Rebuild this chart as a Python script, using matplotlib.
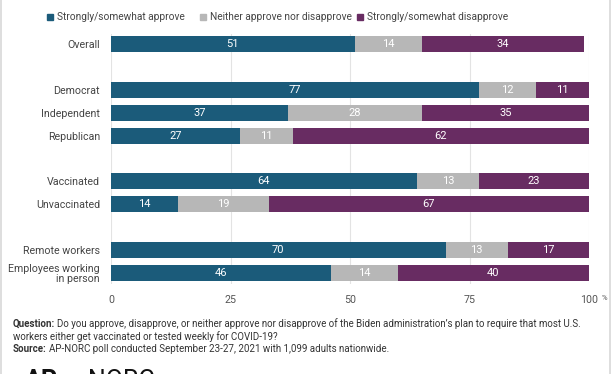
import matplotlib
matplotlib.use('Agg')
import matplotlib.pyplot as plt
from matplotlib.patches import Rectangle
import numpy as np

plt.rcParams['font.family'] = ['Roboto', 'DejaVu Sans']

groups = ['Overall', 'Democrat', 'Independent', 'Republican',
          'Vaccinated', 'Unvaccinated', 'Remote workers', 'Employees working\nin person']
rows = [0, 2, 3, 4, 6, 7, 9, 10]
approve = [51, 77, 37, 27, 64, 14, 70, 46]
neither = [14, 12, 28, 11, 13, 19, 13, 14]
disapprove = [34, 11, 35, 62, 23, 67, 17, 40]
series_names = ['Strongly/somewhat approve', 'Neither approve nor disapprove',
                'Strongly/somewhat disapprove']
colors = ['#1b5b7a', '#b7b7b7', '#682c62']
xticks = [0, 25, 50, 75, 100]

W, H = 612, 374
fig = plt.figure(figsize=(W / 100, H / 100), dpi=100)
ax = fig.add_axes([111 / W, 1 - 284 / H, (589 - 111) / W, (284 - 34) / H])

left = np.zeros(len(rows))
for vals, col in zip([approve, neither, disapprove], colors):
    vals = np.array(vals, dtype=float)
    ax.barh(rows, vals, left=left, height=0.7, color=col, zorder=2)
    for r, l, v in zip(rows, left, vals):
        ax.text(l + v / 2, r, '%d' % v, ha='center', va='center',
                color='white', fontsize=8, zorder=3)
    left += vals

ax.set_xlim(0, 100)
ax.set_ylim(10.5, -0.45)
ax.set_yticks(rows)
ax.set_yticklabels(groups, fontsize=7.7, color='#444444', linespacing=1.1)
ax.set_xticks(xticks)
ax.set_xticklabels([str(t) for t in xticks], fontsize=7.7, color='#555555')
ax.tick_params(axis='y', length=0, pad=8)
ax.tick_params(axis='x', length=0, pad=8)
for s in ax.spines.values():
    s.set_visible(False)
ax.xaxis.grid(True, color='#e3e3e3', linewidth=0.8, zorder=0)
fig.text(604 / W, 1 - 298 / H, '%', fontsize=5.5, color='#555555', va='center', ha='center')

# legend
leg_x = [47, 200, 357]
for x0, name, col in zip(leg_x, series_names, colors):
    fig.patches.append(Rectangle((x0 / W, 1 - 20 / H), 6 / W, 6 / H,
                                 transform=fig.transFigure, color=col))
    fig.text((x0 + 10) / W, 1 - 17 / H, name, fontsize=7.3, color='#444444', va='center')

# footnote
fig.canvas.draw()
renderer = fig.canvas.get_renderer()

def mixed(x, y, bold, rest):
    t = fig.text(x / W, 1 - y / H, bold, fontsize=7.0, fontweight='bold',
                 color='#333333', va='center')
    bb = t.get_window_extent(renderer=renderer)
    fig.text(bb.x1 / W + 2 / W, 1 - y / H, rest, fontsize=7.0, color='#333333', va='center')

mixed(13, 324, 'Question:', 'Do you approve, disapprove, or neither approve nor disapprove '
      'of the Biden administration\u2019s plan to require that most U.S.')
fig.text(13 / W, 1 - 337 / H, 'workers either get vaccinated or tested weekly for COVID-19?',
         fontsize=7.0, color='#333333', va='center')
mixed(13, 349, 'Source:', 'AP-NORC poll conducted September 23-27, 2021 with 1,099 adults nationwide.')

# logo, cut off at the bottom as in the source image
fig.text(25 / W, 1 - 369 / H, 'AP', fontsize=18, fontweight='bold', color='#111111', va='top')
fig.text(88 / W, 1 - 369 / H, 'NORC', fontsize=18, color='#111111', va='top')

# outer frame
fig.patches.append(Rectangle((1 / W, -0.01), (W - 3) / W, 1.02, transform=fig.transFigure,
                             fill=False, edgecolor='#d8d8d8', linewidth=1.2))

fig.savefig('out.png', dpi=100)
